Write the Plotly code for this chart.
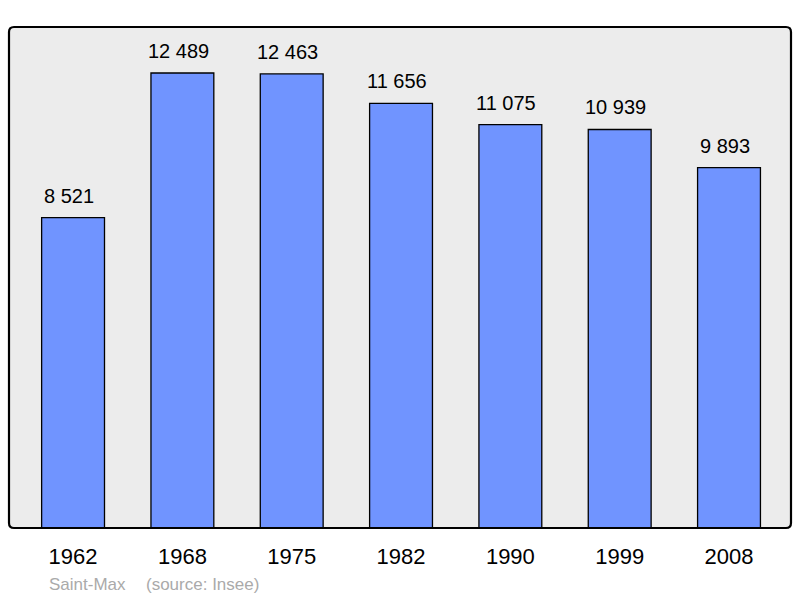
import plotly.graph_objects as go

years = ["1962", "1968", "1975", "1982", "1990", "1999", "2008"]
population = [8521, 12489, 12463, 11656, 11075, 10939, 9893]
commune = "Saint-Max"
source = "(source: Insee)"

x = list(range(len(years)))

def fmt(v):
    return f"{v:,}".replace(",", " ")

FONT = "Liberation Sans, Arial, sans-serif"

fig = go.Figure()
fig.add_trace(go.Bar(
    x=x, y=population, width=0.575,
    marker=dict(color="#7094ff", line=dict(color="#000000", width=1.3)),
    hoverinfo="skip",
))

for xi, v in zip(x, population):
    fig.add_annotation(x=xi, y=v, xref="x", yref="y", text=fmt(v),
                       showarrow=False, yanchor="middle", yshift=22, xshift=-4,
                       font=dict(family=FONT, size=20, color="#000"))

# rounded frame
r_x = 5 / 782
r_y = 5 / 501
path = (f"M {r_x},0 L {1-r_x},0 Q 1,0 1,{r_y} L 1,{1-r_y} Q 1,1 {1-r_x},1 "
        f"L {r_x},1 Q 0,1 0,{1-r_y} L 0,{r_y} Q 0,0 {r_x},0 Z")
fig.add_shape(type="path", xref="paper", yref="paper", path=path,
              line=dict(color="#000", width=2.2), layer="above")

fig.add_annotation(xref="paper", yref="paper", x=(47 - 9) / 782, y=-(584 - 528) / 501,
                   xanchor="left", yanchor="middle", text=commune, showarrow=False,
                   font=dict(family=FONT, size=17, color="#aaaaaa"))
fig.add_annotation(xref="paper", yref="paper", x=(144 - 9) / 782, y=-(584 - 528) / 501,
                   xanchor="left", yanchor="middle", text=source, showarrow=False,
                   font=dict(family=FONT, size=17, color="#aaaaaa"))

fig.update_layout(
    width=800, height=598,
    margin=dict(l=9, r=9, t=27, b=70),
    paper_bgcolor="#ffffff", plot_bgcolor="#ececec",
    showlegend=False,
    xaxis=dict(range=[-0.586, 6.567], tickvals=x, ticktext=years,
               showgrid=False, zeroline=False, ticks="outside", ticklen=9,
               tickcolor="rgba(0,0,0,0)",
               tickfont=dict(family=FONT, size=22, color="#000")),
    yaxis=dict(range=[0, 13752], showgrid=False, zeroline=False,
               showticklabels=False, ticks=""),
)

fig.write_html("out.html", config={"displayModeBar": False, "staticPlot": True},
               post_script="document.body.style.margin='0';document.body.style.overflow='hidden';")
